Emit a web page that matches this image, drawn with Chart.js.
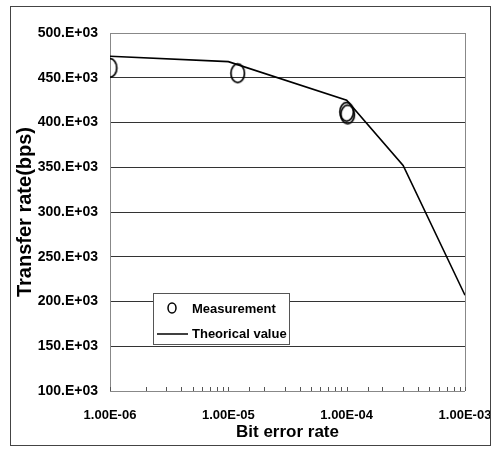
<!DOCTYPE html>
<html>
<head>
<meta charset="utf-8">
<script src="https://cdn.jsdelivr.net/npm/chart.js@4.4.1/dist/chart.umd.min.js"></script>
<style>
  html, body { margin: 0; padding: 0; background: #fff; }
  canvas { display: block; }
</style>
</head>
<body>
<canvas id="chart" width="498" height="449"></canvas>
<script>
// --- data ---
const theoryBer = [1e-6, 1e-5, 1e-4, 3e-4, 1e-3];
const theoryRate = [474000, 468000, 425000, 352000, 207000];
const measBer = [1.0e-6, 1.2e-5, 1.0e-4, 1.02e-4];
const measRate = [461000, 455000, 412000, 409000];
const xTickLabels = ['1.00E-06', '1.00E-05', '1.00E-04', '1.00E-03'];
const yTickLabels = ['100.E+03', '150.E+03', '200.E+03', '250.E+03', '300.E+03',
                     '350.E+03', '400.E+03', '450.E+03', '500.E+03'];

const FONT = "'Liberation Sans', Arial, sans-serif";
Chart.defaults.font.family = FONT;
Chart.defaults.font.weight = 'bold';
Chart.defaults.color = '#000';

// ellipse marker like the scanned one (taller than wide)
function ellipseMarker(w, h, lw) {
    const c = document.createElement('canvas');
    c.width = w; c.height = h;
    const g = c.getContext('2d');
    g.strokeStyle = '#000';
    g.lineWidth = lw;
    g.beginPath();
    g.ellipse(w / 2, h / 2, w / 2 - lw, h / 2 - lw, 0, 0, Math.PI * 2);
    g.stroke();
    return c;
}
const marker = ellipseMarker(17, 22, 1.7);

// frame, right border, minor ticks and the inside legend
const decorPlugin = {
    id: 'decor',
    afterDraw(chart) {
        const { ctx, chartArea: a, scales } = chart;
        ctx.save();
        // outer frame
        ctx.strokeStyle = '#444';
        ctx.lineWidth = 1;
        ctx.strokeRect(10.5, 6.5, 480, 439);
        // right border of the plot
        ctx.strokeStyle = '#888';
        ctx.beginPath();
        ctx.moveTo(Math.round(a.right) + 0.5, a.top);
        ctx.lineTo(Math.round(a.right) + 0.5, a.bottom);
        ctx.stroke();
        // small tick marks on the log axis, pointing up into the plot
        ctx.strokeStyle = '#555';
        scales.x.ticks.forEach(t => {
            const px = Math.round(scales.x.getPixelForValue(t.value)) + 0.5;
            ctx.beginPath();
            ctx.moveTo(px, a.bottom);
            ctx.lineTo(px, a.bottom - 4);
            ctx.stroke();
        });
        // legend box
        const lx = a.left + 43, ly = a.top + 260, lw = 136, lh = 51;
        ctx.fillStyle = '#fff';
        ctx.fillRect(lx, ly, lw, lh);
        ctx.strokeStyle = '#555';
        ctx.strokeRect(lx + 0.5, ly + 0.5, lw, lh);
        ctx.font = 'bold 13px ' + FONT;
        ctx.fillStyle = '#000';
        ctx.textBaseline = 'middle';
        const ds = chart.data.datasets;
        ctx.strokeStyle = '#000';
        ctx.lineWidth = 1.5;
        ctx.beginPath();
        ctx.ellipse(lx + 19, ly + 15, 4, 5, 0, 0, Math.PI * 2);
        ctx.stroke();
        ctx.fillText(ds[1].label, lx + 39, ly + 16);
        ctx.beginPath();
        ctx.moveTo(lx + 4, ly + 41);
        ctx.lineTo(lx + 35, ly + 41);
        ctx.stroke();
        ctx.fillText(ds[0].label, lx + 39, ly + 41);
        ctx.restore();
    }
};

new Chart(document.getElementById('chart'), {
    type: 'scatter',
    data: {
        datasets: [{
            label: 'Theorical value',
            data: theoryBer.map((x, i) => ({ x: x, y: theoryRate[i] })),
            showLine: true,
            borderColor: '#000',
            borderWidth: 1.6,
            pointRadius: 0,
            fill: false
        }, {
            label: 'Measurement',
            data: measBer.map((x, i) => ({ x: x, y: measRate[i] })),
            showLine: false,
            pointStyle: marker,
            pointRadius: 8
        }]
    },
    options: {
        responsive: false,
        animation: false,
        devicePixelRatio: 1,
        layout: { padding: { left: 0, right: 33, top: 33, bottom: 0 } },
        plugins: { legend: { display: false }, tooltip: { enabled: false } },
        scales: {
            x: {
                type: 'logarithmic',
                min: 1e-6,
                max: 1e-3,
                afterFit(s) { s.height = 58; s.paddingLeft = 0; s.paddingRight = 0; },
                grid: { display: false },
                border: { display: false },
                ticks: {
                    autoSkip: false,
                    maxRotation: 0,
                    padding: 9,
                    font: { size: 13 },
                    callback(v) {
                        const e = Math.log10(v);
                        if (Math.abs(e - Math.round(e)) > 1e-6) return '';
                        return xTickLabels[Math.round(e) + 6];
                    }
                },
                title: {
                    display: true,
                    text: 'Bit error rate',
                    font: { size: 17 },
                    padding: { top: 0, bottom: 6 }
                }
            },
            y: {
                min: 100000,
                max: 500000,
                afterFit(s) { s.width = 110; },
                grid: {
                    drawTicks: false,
                    color: c => (c.tick && (c.tick.value === 100000 || c.tick.value === 500000)) ? '#888' : '#333'
                },
                border: { display: true, color: '#888' },
                ticks: {
                    stepSize: 50000,
                    padding: 12,
                    font: { size: 14 },
                    callback: v => yTickLabels[Math.round((v - 100000) / 50000)]
                },
                title: {
                    display: true,
                    text: 'Transfer rate(bps)',
                    font: { size: 20 },
                    padding: { top: 13, bottom: 0 }
                }
            }
        }
    },
    plugins: [decorPlugin]
});
</script>
</body>
</html>
